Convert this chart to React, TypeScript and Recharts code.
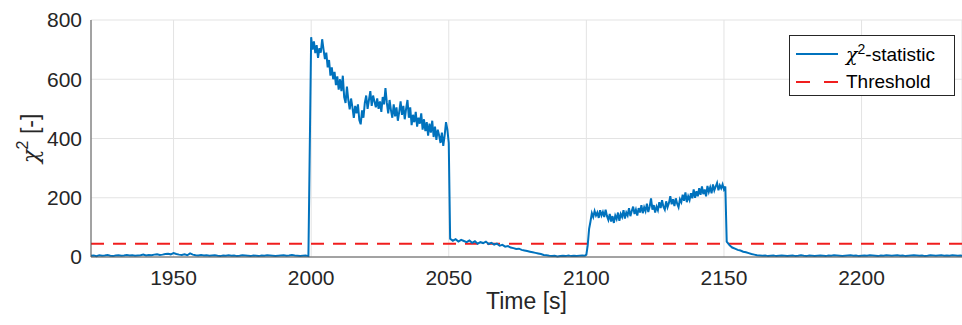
import {
  LineChart,
  Line,
  XAxis,
  YAxis,
  CartesianGrid,
  ReferenceLine,
} from 'recharts';

// Chi-square test statistic over time, sampled per segment.
// Quiet stretches are logged every 1 s, fault episodes every 0.5 s.
const quietBefore = [
  4, 5, 3, 6, 4, 5, 7, 4, 3, 5,
  6, 4, 5, 7, 5, 6, 4, 5, 6, 8,
  5, 7, 6, 8, 9, 7, 8, 10, 11, 9,
  13, 10, 8, 7, 9, 6, 12, 8, 6, 5,
  7, 5, 6, 4, 5, 6, 4, 3, 5, 4,
  6, 4, 5, 3, 4, 6, 5, 4, 3, 5,
  4, 3, 5, 4, 6, 5, 4, 3, 4, 5,
  6, 4, 5, 7, 5, 4, 3, 4, 5, 3,
];

const faultOne = [
  742, 700, 728, 688, 715, 672, 705, 690, 735, 700,
  668, 690, 640, 665, 612, 640, 600, 625, 580, 610,
  565, 600, 560, 612, 540, 520, 575, 530, 498, 535,
  505, 470, 510, 485, 515, 462, 448, 495, 470, 520,
  545, 500, 530, 560, 510, 545, 525, 505, 535, 500,
  525, 490, 540, 515, 570, 520, 485, 530, 495, 470,
  515, 475, 505, 460, 490, 525, 480, 510, 465, 500,
  530, 470, 505, 445, 480, 455, 490, 440, 470, 450,
  485, 430, 465, 425, 455, 410, 450, 420, 460, 405,
  440, 395, 430, 410, 385, 420, 375, 410, 455, 430,
  385,
];

const recoveryOne = [
  62, 55, 60, 52, 58, 54, 50, 56, 48, 53,
  45, 50, 47, 52, 44, 48, 42, 45, 38, 41,
  35, 37, 32, 30, 27, 28, 24, 22, 20, 18,
  16, 14, 12, 10, 7, 6, 4, 3, 4, 2,
  3, 4, 3, 5, 3, 4, 3, 4, 5, 4,
];

const faultTwo = [
  8, 40, 95, 120, 148, 135, 155, 140, 150, 132,
  158, 140, 152, 135, 160, 138, 125, 145, 120, 138,
  115, 140, 128, 150, 122, 145, 135, 158, 130, 150,
  140, 165, 138, 155, 170, 145, 160, 140, 165, 150,
  175, 148, 168, 155, 180, 152, 170, 198, 160, 175,
  150, 170, 158, 185, 165, 192, 170, 160, 188, 168,
  182, 205, 178, 195, 172, 198, 180, 168, 195, 185,
  210, 190, 218, 185, 205, 192, 215, 198, 228, 200,
  222, 205, 232, 210, 238, 212, 228, 205, 240, 220,
  235, 215, 245, 225, 238, 250, 225, 242, 232, 245,
  228, 238,
];

const recoveryTwo = [
  52, 40, 32, 28, 24, 22, 18, 16, 13, 10,
  8, 6, 5, 4, 5, 3, 4, 5, 3, 4,
  5, 4, 3, 4, 5, 3, 4, 6, 4, 3,
  5, 4, 3, 4, 5, 4, 3, 5, 4, 6,
  5, 4, 3, 4, 5, 6, 4, 5, 3, 4,
  5, 4, 6, 5, 4, 3, 5, 4, 6, 5,
  4, 5, 6, 4, 5, 3, 4, 5, 6, 5,
  4, 5, 3, 4, 6, 5, 4, 5, 6, 4,
  5, 4, 6, 5, 4, 5, 4,
];

const THRESHOLD = 45;
const xTicks = [1950, 2000, 2050, 2100, 2150, 2200];
const yTicks = [0, 200, 400, 600, 800];

const segments = [
  { start: 1920, step: 1, values: quietBefore },
  { start: 2000, step: 0.5, values: faultOne },
  { start: 2050.5, step: 1, values: recoveryOne },
  { start: 2100, step: 0.5, values: faultTwo },
  { start: 2151, step: 1, values: recoveryTwo },
];

const data = segments.flatMap((s) =>
  s.values.map((v, i) => ({ t: s.start + i * s.step, chi: v })),
);

const BLUE = '#0072bd';
const RED = '#f01e1e';
const FONT = 'Helvetica, Arial, "Liberation Sans", sans-serif';
const GREEK = "'DejaVu Serif', serif";

function YTitle({ viewBox }: any) {
  const cy = viewBox.y + viewBox.height / 2;
  return (
    <text
      transform={`translate(38,${cy}) rotate(-90)`}
      textAnchor="middle"
      fontFamily={FONT}
      fontSize={23}
      fill="#262626"
    >
      <tspan fontFamily={GREEK} fontStyle="italic">χ</tspan>
      <tspan dy={-10} fontSize={16}>2</tspan>
      <tspan dy={10}> [-]</tspan>
    </text>
  );
}

// legend is laid over the plot area in the upper right corner
function LegendBox() {
  return (
    <div
      style={{
        position: 'absolute',
        left: 789,
        top: 35,
        border: '1px solid #262626',
        background: '#fff',
        width: 164,
        height: 59,
        fontFamily: FONT,
        fontSize: 19,
        color: '#000',
      }}
    >
      <div style={{ display: 'flex', alignItems: 'center', height: 32, marginTop: 2 }}>
        <svg width={56} height={20}>
          <line x1={6} x2={48} y1={10} y2={10} stroke={BLUE} strokeWidth={2} />
        </svg>
        <span>
          <span style={{ fontFamily: GREEK, fontStyle: 'italic' }}>χ</span>
          <sup style={{ fontSize: 14 }}>2</sup>-statistic
        </span>
      </div>
      <div style={{ display: 'flex', alignItems: 'center', height: 24 }}>
        <svg width={56} height={20}>
          <line x1={6} x2={48} y1={10} y2={10} stroke={RED} strokeWidth={2} strokeDasharray="14 14" />
        </svg>
        <span>Threshold</span>
      </div>
    </div>
  );
}

export default function App() {
  return (
    <div style={{ position: 'absolute', left: 0, top: 0, width: 962, height: 325, background: '#fff' }}>
      <LineChart
        width={962}
        height={325}
        data={data}
        margin={{ top: 20, right: 0, bottom: 0, left: 0 }}
      >
        <CartesianGrid stroke="#e3e3e3" strokeWidth={1} />
        <XAxis
          dataKey="t"
          type="number"
          domain={[1920, 2236.5]}
          ticks={xTicks}
          allowDataOverflow
          height={68}
          tickLine={false}
          tickSize={0}
          tickMargin={13}
          stroke="#555"
          tick={{ fill: '#262626', fontSize: 21, fontFamily: FONT }}
          label={{
            value: 'Time [s]',
            position: 'insideBottom',
            offset: 16,
            fill: '#262626',
            fontSize: 23,
            fontFamily: FONT,
          }}
        />
        <YAxis
          type="number"
          domain={[0, 800]}
          ticks={yTicks}
          width={91}
          tickLine={false}
          tickSize={0}
          tickMargin={9}
          stroke="#555"
          tick={{ fill: '#262626', fontSize: 21, fontFamily: FONT }}
          label={<YTitle />}
        />
        <ReferenceLine
          y={THRESHOLD}
          stroke={RED}
          strokeWidth={2}
          strokeDasharray="13 9"
        />
        <Line
          type="linear"
          dataKey="chi"
          stroke={BLUE}
          strokeWidth={2}
          dot={false}
          isAnimationActive={false}
        />
      </LineChart>
      <LegendBox />
    </div>
  );
}
